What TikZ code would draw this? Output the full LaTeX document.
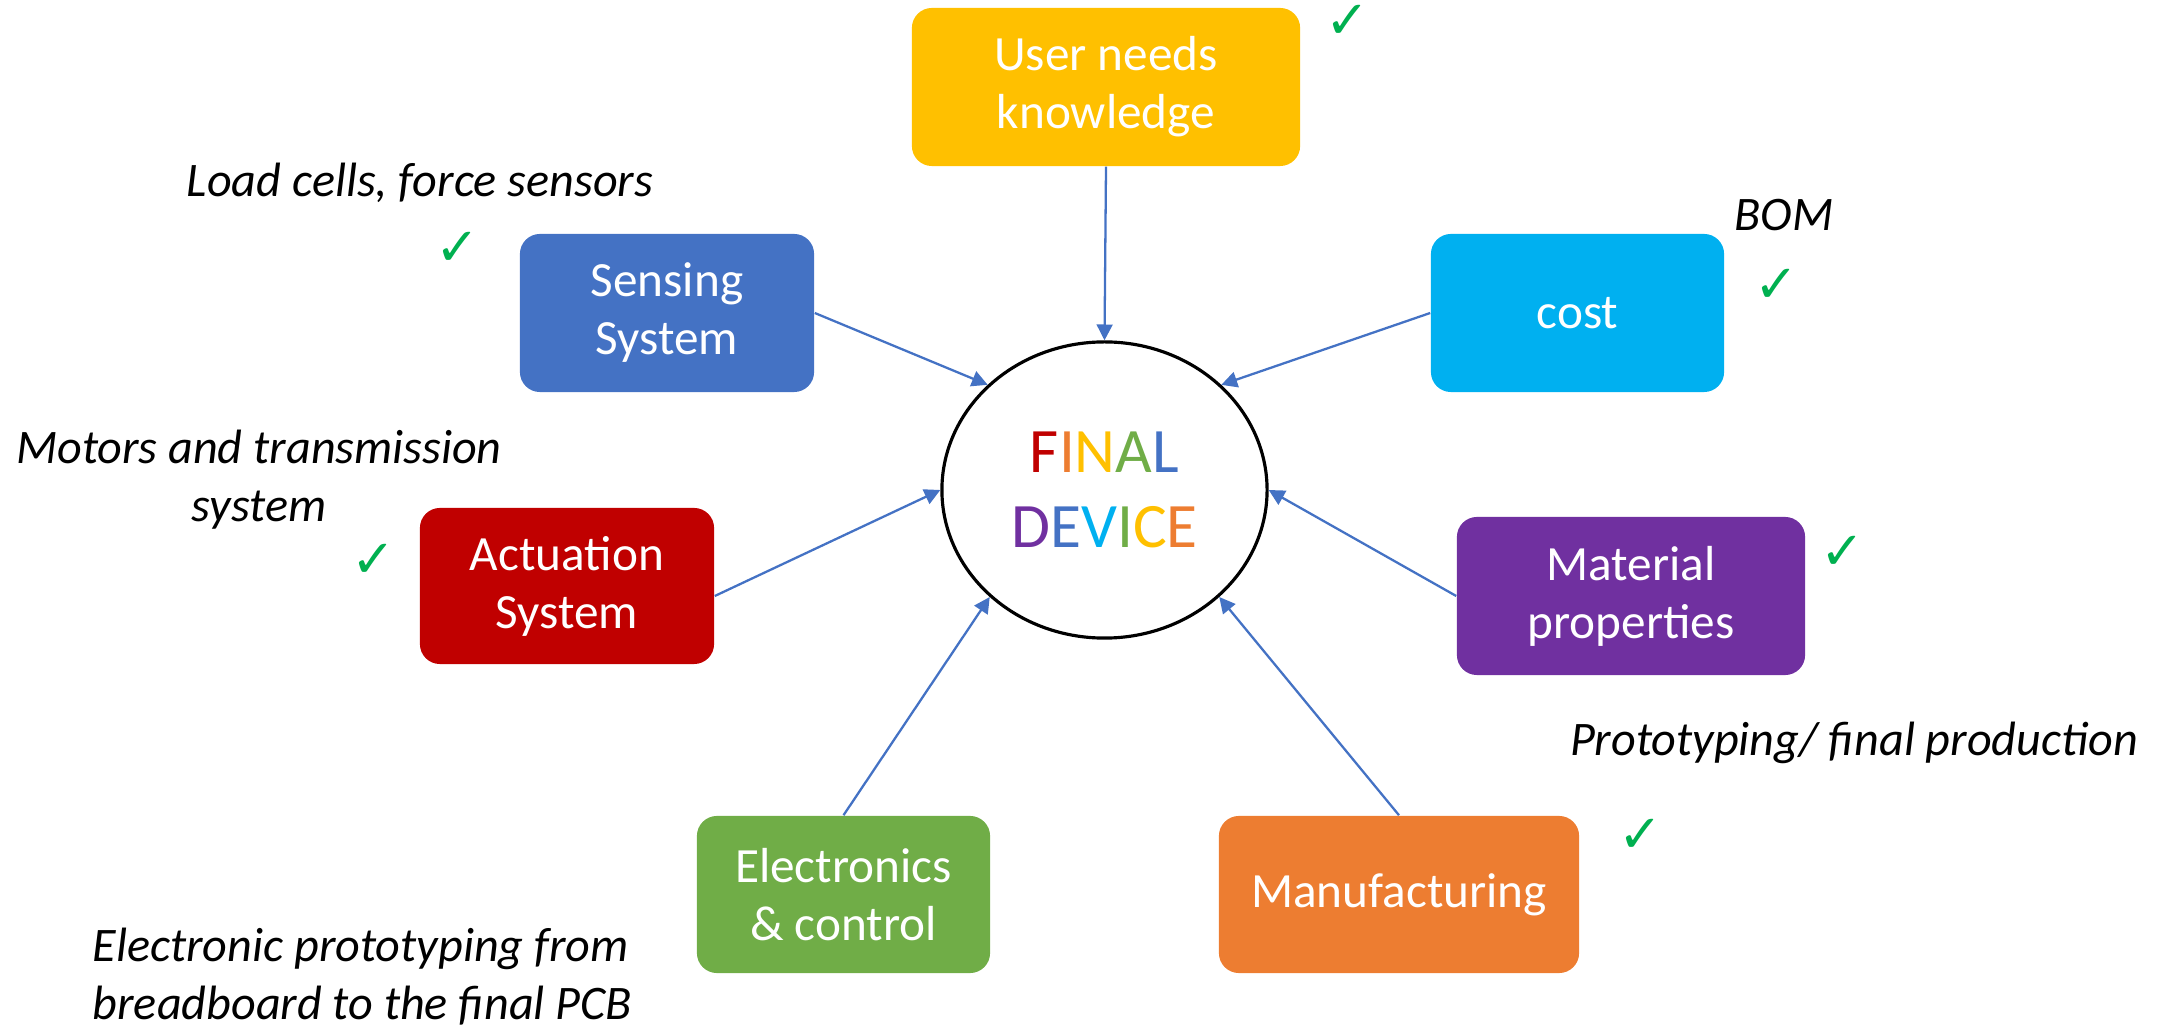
\documentclass[tikz,border=0pt]{standalone}
\usepackage{fontspec}
\setmainfont{Carlito}
\newfontfamily\symfont{DejaVu Sans}
\usetikzlibrary{arrows.meta,shapes.geometric,calc}
\definecolor{cgold}{RGB}{255,192,0}
\definecolor{cblue}{RGB}{68,114,196}
\definecolor{ccyan}{RGB}{0,176,240}
\definecolor{cred}{RGB}{192,0,0}
\definecolor{cpurple}{RGB}{112,48,160}
\definecolor{cgreen}{RGB}{112,173,71}
\definecolor{corange}{RGB}{237,125,49}
\definecolor{ctick}{RGB}{0,176,80}
\begin{document}
\begin{tikzpicture}[x=0.01cm,y=-0.01cm,
  box/.style={rounded corners=0.2cm, text=white, align=center, inner sep=0pt,
    minimum height=1.58cm, font=\fontsize{14}{16.5}\selectfont},
  note/.style={font=\fontsize{13.7}{16.5}\selectfont\itshape, inner sep=0pt},
  tick/.style={text=ctick, font=\symfont\fontsize{15}{15}\selectfont\bfseries, inner sep=0pt},
  conn/.style={-{Triangle[length=4.5pt,width=4.5pt]}, draw=cblue, line width=0.65pt}]
\useasboundingbox (0,0) rectangle (2157,1031);

\node[ellipse, draw, line width=0.9pt, minimum width=3.25cm, minimum height=2.96cm,
  inner sep=0pt, align=center, font=\fontsize{18}{21.5}\selectfont] (dev) at (1104.5,490)
  {\textcolor{cred}{F}\textcolor{corange}{I}\textcolor{cgold}{N}\textcolor{cgreen}{A}\textcolor{cblue}{L}\\
   \textcolor{cpurple}{D}\textcolor{cblue}{E}\textcolor{ccyan}{V}\textcolor{cgreen}{I}\textcolor{cgold}{C}\textcolor{corange}{E}};

\node[box, fill=cgold, minimum width=3.88cm] (user) at (1106,87) {User needs\\knowledge};
\node[box, fill=cblue, minimum width=2.94cm] (sens) at (667,313) {Sensing\\System};
\node[box, fill=ccyan, minimum width=2.93cm] (cost) at (1577.5,313) {cost};
\node[box, fill=cred, minimum width=2.94cm, minimum height=1.56cm] (act) at (567,586) {Actuation\\System};
\node[box, fill=cpurple, minimum width=3.48cm] (mat) at (1631,596) {Material\\properties};
\node[box, fill=cgreen, minimum width=2.93cm, minimum height=1.57cm] (elec) at (843.5,894.5) {Electronics\\\& control};
\node[box, fill=corange, minimum width=3.60cm, minimum height=1.57cm] (manu) at (1399,894.5) {Manufacturing};

\draw[conn] (user.south) -- (dev.90);
\draw[conn] (sens.east) -- (dev.138);
\draw[conn] (cost.west) -- (dev.42);
\draw[conn] ($(act.east)+(0,10)$) -- (dev.180);
\draw[conn] (mat.west) -- (dev.0);
\draw[conn] (elec.north) -- (dev.223);
\draw[conn] (manu.north) -- (dev.317);

\node[note] (n1) at (420,183) {Load cells, force sensors};
\node[note] (n2) at (1784,215) {BOM};
\node[note, align=center] (n3) at (259,480) {Motors and transmission\\system};
\node[note] (n4) at (1854,743) {Prototyping/ final production};
\node[note, align=left, anchor=west] (n5) at (92,977) {Electronic prototyping from\\breadboard to the final PCB};

\node[tick] (t1) at (1348,22) {✓};
\node[tick] (t2) at (458,249) {✓};
\node[tick] (t3) at (1777,286) {✓};
\node[tick] (t4) at (374,561) {✓};
\node[tick] (t5) at (1843,553) {✓};
\node[tick] (t6) at (1641,836) {✓};
\end{tikzpicture}
\end{document}
